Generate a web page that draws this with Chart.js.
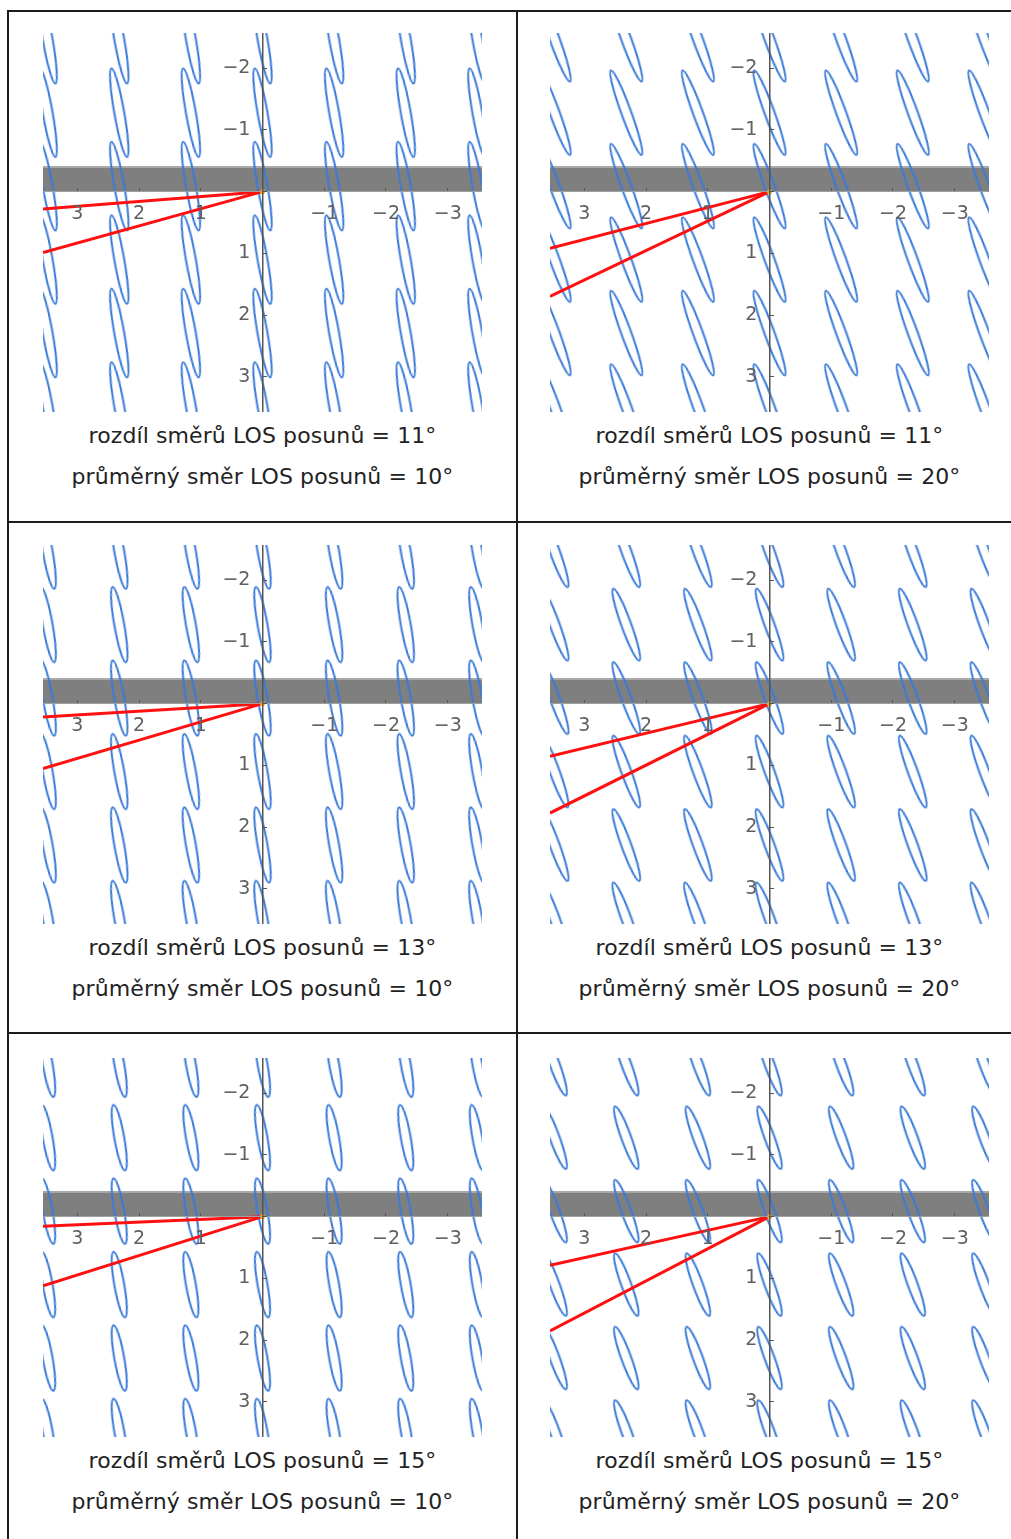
<!DOCTYPE html>
<html>
<head>
<meta charset="utf-8">
<script src="https://cdn.jsdelivr.net/npm/chart.js@4.4.0/dist/chart.umd.min.js"></script>
<style>
  body { margin: 0; background: #fff; width: 1011px; height: 1539px; overflow: hidden; position: relative; font-family: "DejaVu Sans", sans-serif; }
  .rule { position: absolute; background: #1c1c1c; }
  .plot { position: absolute; }
  .caption { position: absolute; width: 439px; text-align: center; font-size: 22px; letter-spacing: 0.1px; line-height: 22px; color: #222; white-space: nowrap; }
</style>
</head>
<body>
<script>
// values
const meanDirections = [10, 20];          // one per column, degrees
const directionDiffs = [11, 13, 15];      // one per row, degrees
const majorSemiAxes = [0.73, 0.62, 0.54]; // ellipse half length, per row
const minorSemiAxes = [0.08, 0.08, 0.08]; // ellipse half width, per row
const latticeX = [-3.48, -2.32, -1.16, 0, 1.16, 2.32, 3.48];
const latticeY = [-2.47, -1.28, -0.09, 1.10, 2.29, 3.48];
const bandTop = -0.4;
const bandBottom = 0;
const xTicks = [-3, -2, -1, 0, 1, 2, 3];
const yTicks = [-2, -1, 0, 1, 2, 3];

const xMin = -3.555, xMax = 3.555;
const yMin = -2.57, yMax = 3.57;
const plotW = 439, plotH = 379;
const panelLeft = [43, 550];
const panelTop = [33, 545, 1058];

const ellipseColor = '#3a7ad8';
const fontFamily = '"DejaVu Sans", sans-serif';

function rule(x, y, w, h) {
  const d = document.createElement('div');
  d.className = 'rule';
  d.style.left = x + 'px'; d.style.top = y + 'px';
  d.style.width = w + 'px'; d.style.height = h + 'px';
  document.body.appendChild(d);
}
rule(7, 10, 2, 1540);
rule(516, 10, 2, 1540);
[10, 521, 1032].forEach(y => rule(7, y, 1010, 2));

function fmt(v) {
  if (v === 0) return '';
  return v < 0 ? '\u2212' + Math.abs(v) : String(v);
}

function zeroPad(s) {
  s.paddingTop = 0; s.paddingBottom = 0; s.paddingLeft = 0; s.paddingRight = 0;
}

function ellipseImage(aPx, bPx) {
  const s = Math.ceil(2 * aPx + 6);
  const cv = document.createElement('canvas');
  cv.width = s; cv.height = s;
  const g = cv.getContext('2d');
  g.strokeStyle = ellipseColor;
  g.lineWidth = 2;
  g.beginPath();
  g.ellipse(s / 2, s / 2, bPx, aPx, 0, 0, 2 * Math.PI);
  g.stroke();
  return cv;
}

function makePanel(r, c) {
  const diff = directionDiffs[r];
  const mean = meanDirections[c];
  const left = panelLeft[c], top = panelTop[r];

  const canvas = document.createElement('canvas');
  canvas.className = 'plot';
  canvas.width = plotW; canvas.height = plotH;
  canvas.style.left = left + 'px'; canvas.style.top = top + 'px';
  canvas.style.width = plotW + 'px'; canvas.style.height = plotH + 'px';
  document.body.appendChild(canvas);

  ['rozdíl směrů LOS posunů = ' + diff + '°', 'průměrný směr LOS posunů = ' + mean + '°'].forEach((t, i) => {
    const d = document.createElement('div');
    d.className = 'caption';
    d.textContent = t;
    d.style.left = left + 'px';
    d.style.top = (top + 392 + i * 41) + 'px';
    document.body.appendChild(d);
  });

  const ppu = plotW / (xMax - xMin);
  const marker = ellipseImage(majorSemiAxes[r] * ppu, minorSemiAxes[r] * ppu);
  const centers = [];
  latticeY.forEach(y => latticeX.forEach(x => centers.push({ x, y })));

  const rays = [mean - diff / 2, mean + diff / 2].map(a => [
    { x: 0, y: 0 },
    { x: xMax, y: xMax * Math.tan(a * Math.PI / 180) }
  ]);

  const tickFont = { family: fontFamily, size: 19 };

  new Chart(canvas, {
    type: 'scatter',
    data: {
      datasets: [
        {
          type: 'scatter', data: [{ x: 0, y: 0 }], order: 0,
          pointRadius: 2.5, backgroundColor: '#f2b520', borderWidth: 0
        },
        {
          type: 'line', data: rays[0], order: 1, clip: 0,
          borderColor: '#ff1010', borderWidth: 3, pointRadius: 0, fill: false
        },
        {
          type: 'line', data: rays[1], order: 1, clip: 0,
          borderColor: '#ff1010', borderWidth: 3, pointRadius: 0, fill: false
        },
        {
          type: 'scatter', data: centers, order: 2, clip: 0,
          pointStyle: marker, pointRotation: -mean, pointRadius: 3
        },
        {
          type: 'line', order: 3, clip: 0,
          data: [{ x: xMin, y: bandTop }, { x: xMax, y: bandTop }],
          borderColor: '#a8a8a8', borderWidth: 2, pointRadius: 0,
          backgroundColor: '#7f7f7f', fill: { value: bandBottom }
        }
      ]
    },
    options: {
      responsive: false,
      animation: false,
      events: [],
      layout: { padding: 0, autoPadding: false },
      plugins: { legend: { display: false }, tooltip: { enabled: false } },
      scales: {
        x: {
          type: 'linear', min: xMin, max: xMax, reverse: true,
          position: { y: 0 },
          afterBuildTicks: s => { s.ticks = xTicks.map(v => ({ value: v })); },
          afterFit: zeroPad,
          grid: { drawOnChartArea: false, drawTicks: true, tickLength: -4, color: '#555', z: 1 },
          border: { display: true, color: '#a0a0a0', width: 1, z: 1 },
          ticks: { padding: 15, font: tickFont, color: '#606060', autoSkip: false, maxRotation: 0, z: 1, callback: v => fmt(v) }
        },
        y: {
          type: 'linear', min: yMin, max: yMax, reverse: true,
          position: { x: 0 },
          afterBuildTicks: s => { s.ticks = yTicks.map(v => ({ value: v })); },
          afterFit: zeroPad,
          grid: { drawOnChartArea: false, drawTicks: true, tickLength: -5, color: '#555', z: 1 },
          border: { display: true, color: '#555', width: 1.5, z: 1 },
          // figure space keeps the right-aligned labels clear of the axis line
          ticks: { padding: 16, font: tickFont, color: '#606060', autoSkip: false, z: 1, callback: v => v === 0 ? '' : fmt(v) + '\u2007' }
        }
      }
    }
  });
}

for (let r = 0; r < directionDiffs.length; r++) {
  for (let c = 0; c < meanDirections.length; c++) makePanel(r, c);
}
</script>
</body>
</html>
